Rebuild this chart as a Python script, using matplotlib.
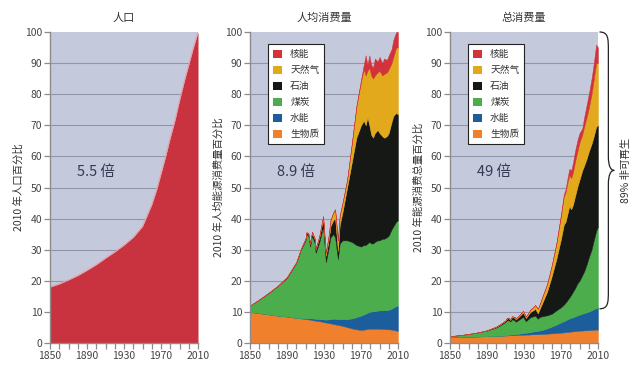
import matplotlib
matplotlib.use("Agg")
import matplotlib.pyplot as plt
import numpy as np
from matplotlib.patches import Patch, PathPatch
from matplotlib.path import Path
import matplotlib.transforms as mtransforms

plt.rcParams['font.family'] = ['Noto Sans CJK SC', 'DejaVu Sans']

# ---- population (% of 2010) ----
pop_years = [1850, 1860, 1870, 1880, 1890, 1900, 1910, 1920, 1930, 1940, 1950, 1955,
             1960, 1965, 1970, 1975, 1980, 1985, 1990, 1995, 2000, 2005, 2010]
pop = [18, 19, 20.3, 21.7, 23.4, 25.2, 27.3, 29.3, 31.5, 34, 37.5, 41,
       44.5, 49, 54.5, 60, 66, 71.5, 78, 84, 89.5, 95, 100]

# ---- energy years (shared by both energy panels) ----
years = [1850, 1860, 1870, 1880, 1890, 1900, 1905, 1910, 1911, 1913, 1915, 1917,
         1920, 1921, 1925, 1929, 1932, 1935, 1937, 1940, 1942, 1945, 1947, 1950,
         1955, 1960, 1965, 1970, 1973, 1975, 1977, 1979, 1981, 1983, 1985, 1988,
         1990, 1993, 1995, 1998, 2000, 2003, 2005, 2008, 2010]

# per-capita, cumulative top of each layer (% of 2010)
pc_biomass = [10.0, 9.6, 9.2, 8.8, 8.5, 8.1, 7.9, 7.7, 7.7, 7.6, 7.5, 7.4,
              7.2, 7.2, 7.0, 6.8, 6.6, 6.4, 6.3, 6.1, 6.0, 5.8, 5.7, 5.5,
              5.1, 4.7, 4.4, 4.2, 4.3, 4.4, 4.5, 4.6, 4.6, 4.6, 4.6, 4.6,
              4.6, 4.5, 4.5, 4.4, 4.4, 4.3, 4.2, 4.0, 3.8]
pc_hydro = [10.0, 9.6, 9.2, 8.8, 8.5, 8.1, 8.0, 8.0, 8.0, 8.0, 7.9, 7.9,
            7.8, 7.8, 7.7, 7.6, 7.5, 7.6, 7.7, 7.8, 7.8, 7.7, 7.7, 7.7,
            7.7, 7.9, 8.3, 8.8, 9.2, 9.4, 9.7, 10.0, 10.1, 10.2, 10.3, 10.4,
            10.5, 10.5, 10.6, 10.6, 10.7, 11.0, 11.4, 11.9, 12.0]
pc_coal = [12.0, 14.0, 16.0, 18.3, 21.0, 25.8, 30.0, 33.0, 35.0, 34.5, 31.0, 34.5,
           32.0, 29.0, 32.5, 37.5, 26.0, 30.5, 34.0, 35.0, 34.0, 27.0, 32.0, 33.0,
           33.0, 32.5, 31.5, 31.0, 31.5, 31.5, 32.0, 32.5, 32.0, 32.0, 32.5, 33.0,
           33.0, 33.5, 33.5, 34.0, 34.5, 36.5, 37.5, 39.0, 39.5]
pc_oil = [12.0, 14.0, 16.1, 18.4, 21.2, 26.0, 30.3, 33.5, 35.5, 35.2, 31.8, 35.5,
          33.2, 30.0, 34.0, 40.0, 28.0, 33.0, 37.5, 39.5, 40.0, 29.5, 38.0, 42.0,
          50.0, 58.0, 66.0, 70.0, 71.5, 70.0, 72.5, 70.0, 67.0, 66.0, 67.5, 68.5,
          67.5, 66.5, 66.0, 66.5, 67.5, 71.0, 73.0, 74.0, 73.5]
pc_gas = [12.0, 14.0, 16.1, 18.4, 21.2, 26.0, 30.3, 33.6, 35.6, 35.4, 32.0, 35.8,
          33.6, 30.4, 34.6, 40.8, 29.0, 34.5, 39.5, 42.0, 43.0, 33.0, 41.0, 45.0,
          52.5, 64.0, 76.0, 84.0, 88.0, 86.0, 87.5, 88.5, 86.0, 85.0, 86.0, 87.0,
          87.5, 86.0, 86.5, 87.0, 88.0, 90.0, 92.0, 95.0, 95.0]
pc_nuclear = [12.0, 14.0, 16.1, 18.4, 21.2, 26.0, 30.3, 33.6, 35.6, 35.4, 32.0, 35.8,
              33.6, 30.4, 34.6, 40.8, 29.0, 34.5, 39.5, 42.0, 43.0, 33.0, 41.0, 45.0,
              52.5, 64.0, 76.2, 84.7, 89.5, 92.5, 89.5, 92.5, 89.5, 88.5, 91.5, 90.5,
              92.0, 90.0, 91.5, 91.0, 92.5, 94.5, 97.5, 100.0, 100.0]

# total consumption, cumulative top of each layer (% of 2010)
tot_biomass = [1.9, 1.95, 2.0, 2.1, 2.2, 2.3, 2.35, 2.4, 2.4, 2.45, 2.5, 2.5,
               2.55, 2.55, 2.6, 2.65, 2.7, 2.7, 2.75, 2.8, 2.8, 2.85, 2.85, 2.9,
               3.0, 3.1, 3.2, 3.3, 3.4, 3.5, 3.55, 3.6, 3.7, 3.75, 3.8, 3.9,
               3.95, 4.0, 4.05, 4.1, 4.15, 4.2, 4.25, 4.3, 4.3]
tot_hydro = [1.9, 1.95, 2.0, 2.1, 2.2, 2.3, 2.35, 2.5, 2.5, 2.6, 2.7, 2.75,
             2.85, 2.85, 3.0, 3.2, 3.3, 3.4, 3.5, 3.7, 3.8, 3.9, 4.0, 4.2,
             4.7, 5.3, 5.9, 6.6, 7.0, 7.3, 7.6, 7.9, 8.1, 8.3, 8.5, 8.9,
             9.1, 9.4, 9.6, 9.9, 10.1, 10.5, 10.8, 11.2, 11.4]
tot_coal = [2.2, 2.5, 2.9, 3.4, 4.0, 5.0, 5.8, 6.8, 7.2, 7.4, 6.9, 7.6,
            7.3, 6.8, 7.6, 8.4, 7.0, 7.8, 8.3, 8.6, 8.8, 7.8, 8.4, 8.6,
            8.9, 9.4, 10.5, 11.5, 12.3, 13.0, 13.8, 14.6, 15.5, 16.5, 17.5, 19.3,
            20.0, 21.8, 23.0, 25.5, 27.5, 30.0, 32.5, 36.0, 37.5]
tot_oil = [2.2, 2.5, 2.9, 3.4, 4.1, 5.2, 6.1, 7.2, 7.7, 8.0, 7.4, 8.3,
           8.1, 7.5, 8.6, 9.8, 8.0, 9.2, 10.0, 10.5, 11.0, 9.5, 11.0, 13.0,
           16.5, 21.5, 27.0, 33.5, 38.0, 39.0, 41.5, 44.0, 43.0, 44.5, 47.0, 50.5,
           52.5, 55.5, 57.0, 59.5, 61.5, 64.0, 66.0, 69.5, 70.0]
tot_gas = [2.2, 2.5, 2.9, 3.4, 4.1, 5.3, 6.2, 7.3, 7.9, 8.2, 7.6, 8.6,
           8.4, 7.8, 9.0, 10.4, 8.5, 9.8, 10.8, 11.5, 12.2, 11.0, 12.5, 15.0,
           19.0, 25.0, 32.0, 41.0, 47.0, 48.5, 51.5, 54.0, 53.0, 55.0, 58.0, 62.0,
           64.5, 67.0, 69.5, 73.0, 75.5, 80.0, 84.0, 90.0, 90.0]
tot_nuclear = [2.2, 2.5, 2.9, 3.4, 4.1, 5.3, 6.2, 7.3, 7.9, 8.2, 7.6, 8.6,
               8.4, 7.8, 9.0, 10.4, 8.5, 9.8, 10.8, 11.5, 12.2, 11.0, 12.5, 15.0,
               19.0, 25.0, 32.1, 41.5, 47.8, 49.5, 53.0, 56.0, 55.5, 58.0, 61.5, 65.5,
               67.5, 69.0, 72.5, 77.0, 80.0, 85.0, 89.0, 96.0, 95.0]

sources = ['核能', '天然气', '石油', '煤炭', '水能', '生物质']
colors = ['#d2323a', '#e2a91d', '#161816', '#4bad4b', '#1c5e9c', '#f1802d']
titles = ['人口', '人均消费量', '总消费量']
ylabels = ['2010 年人口百分比', '2010 年人均能源消费量百分比', '2010 年能源消费总量百分比']
factors = ['5.5 倍', '8.9 倍', '49 倍']
xticks = [1850, 1890, 1930, 1970, 2010]

bg = '#c4c9dc'
grey = '#8c8c8c'

fig = plt.figure(figsize=(6.4, 3.67), dpi=100)
lefts = [50 / 640, 250 / 640, 450 / 640]
axes = [fig.add_axes([l, 24 / 367, 148 / 640, 311 / 367]) for l in lefts]

for ax, t, yl, f in zip(axes, titles, ylabels, factors):
    ax.set_facecolor(bg)
    ax.set_xlim(1850, 2010)
    ax.set_ylim(0, 100)
    ax.set_yticks(range(0, 101, 10))
    ax.set_xticks(xticks)
    ax.set_xticks(range(1850, 2011, 10), minor=True)
    for y in range(10, 100, 10):
        ax.axhline(y, color='#9196a9', lw=0.8, zorder=0.5)
    for s in ['top', 'right']:
        ax.spines[s].set_visible(False)
    for s in ['left', 'bottom']:
        ax.spines[s].set_color(grey)
        ax.spines[s].set_linewidth(1.0)
        ax.spines[s].set_zorder(5)
    ax.tick_params(which='both', direction='out', color=grey, labelcolor='#444444',
                   labelsize=7.5, length=4, width=0.9, pad=1.5)
    ax.set_title(t, fontsize=8, color='#333333', pad=8)
    ax.set_ylabel(yl, fontsize=7.5, color='#333333', labelpad=1)
    ax.text(0.18, 0.55, f, transform=ax.transAxes, fontsize=10.5, color='#333a55',
            va='center', ha='left', zorder=6)

# population panel
ax1 = axes[0]
ax1.fill_between(pop_years, 0, pop, color='#c8333f', lw=0, zorder=2)
ax1.plot(pop_years, pop, color='#e8a0a8', lw=0.8, zorder=3)

# energy panels
def stack(ax, layers):
    lower = np.zeros(len(years))
    for top, c in zip(layers, colors[::-1]):
        top = np.array(top, dtype=float)
        ax.fill_between(years, lower, top, color=c, lw=0.3, edgecolor=c, zorder=2)
        lower = top
    handles = [Patch(facecolor=c, edgecolor='none') for c in colors]
    leg = ax.legend(handles, sources, loc='upper left', bbox_to_anchor=(0.12, 0.96),
                    fontsize=7, frameon=True, fancybox=False, handlelength=1.0,
                    handleheight=1.0, handletextpad=0.8, labelspacing=0.62,
                    borderpad=0.5, borderaxespad=0)
    leg.get_frame().set_edgecolor('#222222')
    leg.get_frame().set_linewidth(0.8)
    leg.get_frame().set_facecolor('white')
    leg.get_frame().set_alpha(1)
    leg.set_zorder(7)
    for txt in leg.get_texts():
        txt.set_color('#333333')

stack(axes[1], [pc_biomass, pc_hydro, pc_coal, pc_oil, pc_gas, pc_nuclear])
stack(axes[2], [tot_biomass, tot_hydro, tot_coal, tot_oil, tot_gas, tot_nuclear])

# brace on the total panel
ax3 = axes[2]
trans = mtransforms.blended_transform_factory(ax3.transAxes, ax3.transData)
verts = [(1.01, 100), (1.07, 100), (1.07, 98), (1.07, 94),
         (1.07, 60),
         (1.07, 57), (1.085, 55.5), (1.11, 55.5),
         (1.085, 55.5), (1.07, 54), (1.07, 51),
         (1.07, 17),
         (1.07, 13), (1.07, 11), (1.01, 11)]
codes = [Path.MOVETO, Path.CURVE4, Path.CURVE4, Path.CURVE4,
         Path.LINETO,
         Path.CURVE4, Path.CURVE4, Path.CURVE4,
         Path.CURVE4, Path.CURVE4, Path.CURVE4,
         Path.LINETO,
         Path.CURVE4, Path.CURVE4, Path.CURVE4]
brace = PathPatch(Path(verts, codes), transform=trans, facecolor='none',
                  edgecolor='#222222', lw=0.9, clip_on=False)
ax3.add_patch(brace)
ax3.text(1.19, 55.5, '89% 非可再生', transform=trans, rotation=90, fontsize=7.5,
         color='#333333', ha='center', va='center')

fig.savefig('out.png', dpi=100)
